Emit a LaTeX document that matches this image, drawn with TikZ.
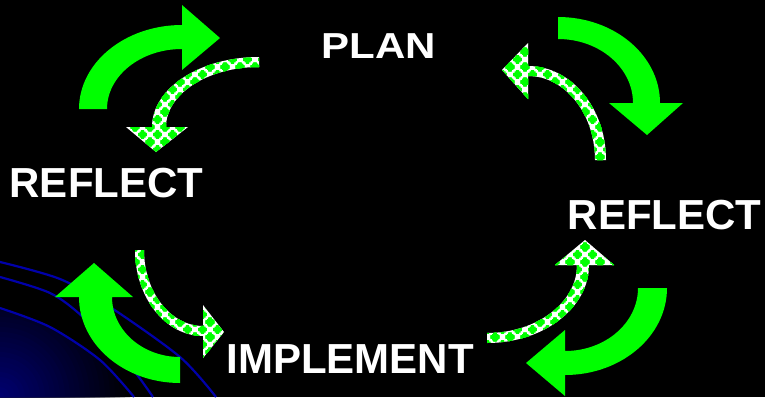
\documentclass[tikz,border=0pt]{standalone}
\usepackage{fontspec}
\setmainfont{Liberation Sans}
\usepackage{graphicx}
\usetikzlibrary{patterns}
\definecolor{arrowgreen}{RGB}{0,255,0}
\definecolor{orbitblue}{RGB}{0,0,170}
\definecolor{globeblue}{RGB}{0,0,115}
\def\crossblob(#1,#2){%
	\pgfpathrectangle{\pgfpoint{#1pt-4.3pt}{#2pt-1.6pt}}{\pgfpoint{8.6pt}{3.2pt}}%
	\pgfpathrectangle{\pgfpoint{#1pt-1.6pt}{#2pt-4.3pt}}{\pgfpoint{3.2pt}{8.6pt}}%
	\pgfpathrectangle{\pgfpoint{#1pt-3pt}{#2pt-3pt}}{\pgfpoint{6pt}{6pt}}}
\pgfdeclarepatternformonly{greencross}{\pgfpoint{-5pt}{-5pt}}{\pgfpoint{20pt}{20pt}}{\pgfpoint{15pt}{15pt}}{%
	\crossblob(7.5,7.5)\crossblob(0,0)\crossblob(15,0)\crossblob(0,15)\crossblob(15,15)%
	\pgfusepath{fill}}
\tikzset{
	solidarrow/.style={fill=arrowgreen},
	checkarrow/.style={preaction={fill=white}, pattern=greencross, pattern color=arrowgreen},
	orbit/.style={draw=orbitblue, line width=2.2pt},
	stagelabel/.style={text=white, inner sep=0pt, font=\bfseries\fontsize{42}{42}\selectfont}
}

\begin{document}
\begin{tikzpicture}[x=1pt, y=-1pt]
	%%%%% START %%%%%
	
	\useasboundingbox (0,0) rectangle (765,397);
	\fill[black] (0,0) rectangle (765,397);
	
	\begin{scope}
		\clip plot[smooth] coordinates {(0,308) (50,327) (100,360) (134,397)} -- (0,397) -- cycle;
		\foreach \r in {130,125,...,5} {
			\pgfmathtruncatemacro\pct{100-\r*0.75}
			\fill[globeblue!\pct!black] (0,397) circle (\r);
		}
	\end{scope}
	\draw[orbit] plot[smooth] coordinates {(0,262) (60,279) (110,307) (180,357) (216,397)};
	\draw[orbit] plot[smooth] coordinates {(0,277) (50,293) (83,317) (127,362) (153,397)};
	\draw[orbit] plot[smooth] coordinates {(0,308) (50,327) (100,360) (134,397)};
	
	% top left
	\fill[solidarrow] (79,109) arc[start angle=180, end angle=270, x radius=103, y radius=84] -- (182,5) -- (220,38) -- (182,70) -- (182,49) arc[start angle=270, end angle=180, x radius=75, y radius=60] -- cycle;
	\fill[checkarrow] (259,57) arc[start angle=270, end angle=180, x radius=107, y radius=70] -- (126,127) -- (156,152) -- (188,127) -- (166,127) arc[start angle=180, end angle=270, x radius=93, y radius=60] -- cycle;
	
	% top right
	\fill[solidarrow] (558,17) arc[start angle=270, end angle=360, x radius=102, y radius=86] -- (683,103) -- (647,135) -- (609,103) -- (633,103) arc[start angle=0, end angle=-90, x radius=75, y radius=64] -- cycle;
	\fill[checkarrow] (606,160) arc[start angle=0, end angle=-90, x radius=78, y radius=94] -- (528,43) -- (502,70) -- (528,99) -- (528,76) arc[start angle=-90, end angle=0, x radius=67, y radius=84] -- cycle;
	
	% bottom left
	\fill[solidarrow] (180,383) arc[start angle=90, end angle=180, x radius=101, y radius=86] -- (55,297) -- (94,263) -- (133,297) -- (112,297) arc[start angle=180, end angle=90, x radius=68, y radius=60] -- cycle;
	\fill[checkarrow] (135,250) arc[start angle=180, end angle=90, x radius=68, y radius=86] -- (203,358) -- (224,332) -- (203,305) -- (203,326) arc[start angle=90, end angle=180, x radius=59, y radius=76] -- cycle;
	
	% bottom right
	\fill[checkarrow] (487,343) arc[start angle=90, end angle=0, x radius=102, y radius=78] -- (614,265) -- (585,240) -- (555,265) -- (577,265) arc[start angle=0, end angle=90, x radius=90, y radius=68] -- cycle;
	\fill[solidarrow] (667,288) arc[start angle=0, end angle=90, x radius=102, y radius=87] -- (565,396) -- (526,363) -- (565,330) -- (565,351) arc[start angle=90, end angle=0, x radius=73, y radius=63] -- cycle;
	
	\node[stagelabel] (plan) at (379,46) {\scalebox{1}[0.86]{PLAN}};
	\node[stagelabel] (reflectL) at (106.5,183.5) {REFLECT};
	\node[stagelabel] (reflectR) at (664.5,215.5) {REFLECT};
	\node[stagelabel] (implement) at (350,359) {IMPLEMENT};
	
	%%%%% END %%%%%
\end{tikzpicture}
\end{document}
